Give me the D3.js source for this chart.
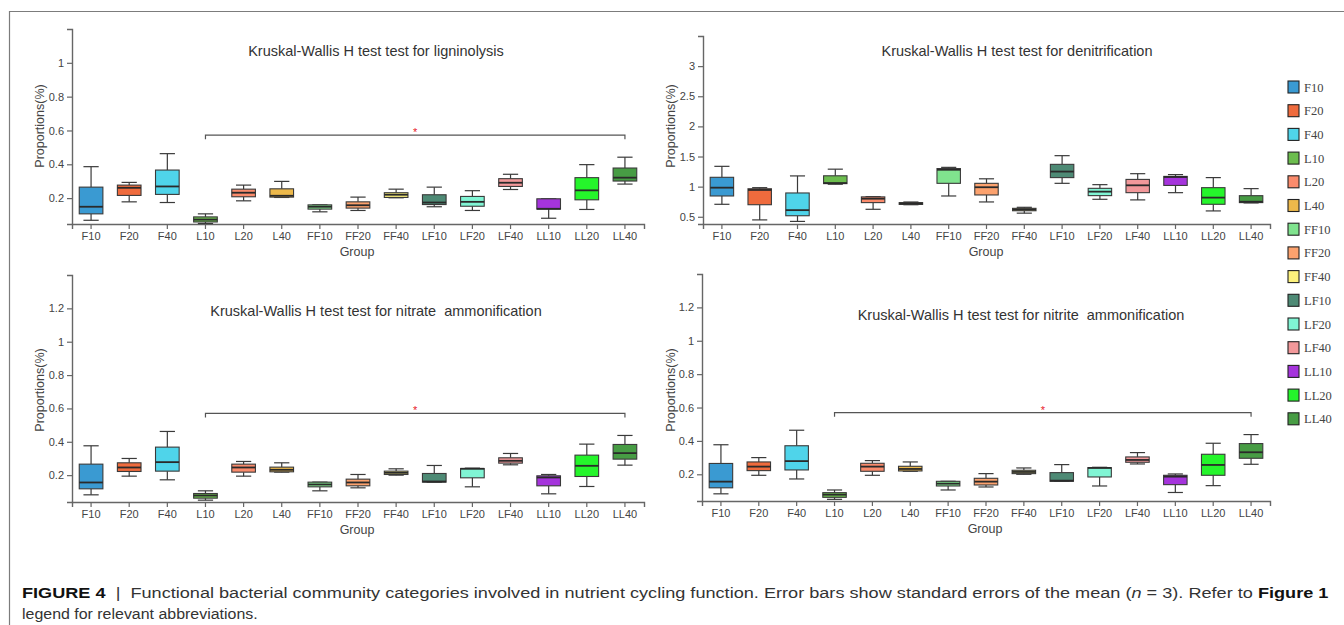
<!DOCTYPE html>
<html>
<head>
<meta charset="utf-8">
<script src="https://cdn.jsdelivr.net/npm/d3@7"></script>
<style>
  html, body { margin: 0; padding: 0; background: #fff; }
  svg { display: block; }
  .keep-space { white-space: pre; }
</style>
</head>
<body>
<svg id="fig" width="1344" height="625"></svg>
<script>
// Sample groups and their box colours
const groups = ["F10","F20","F40","L10","L20","L40","FF10","FF20","FF40","LF10","LF20","LF40","LL10","LL20","LL40"];
const groupColors = ["#3a9ad2","#ef6b3d","#4fd4ea","#6cbd4e","#fa8b6c","#edb94b","#80e38e","#fca26e","#fdf27c","#4e8a75","#80f5d4","#f2989a","#a534dc","#25f52b","#479c44"];

// Ligninolysis (proportion, %)
const ligMin = [0.069,0.178,0.174,0.050,0.184,0.204,0.119,0.127,0.202,0.149,0.127,0.251,0.081,0.133,0.283];
const ligQ1  = [0.107,0.216,0.222,0.059,0.208,0.206,0.135,0.141,0.204,0.162,0.152,0.269,0.135,0.190,0.301];
const ligMed = [0.149,0.261,0.269,0.073,0.232,0.214,0.149,0.158,0.220,0.174,0.178,0.291,0.137,0.246,0.321];
const ligQ3  = [0.265,0.277,0.366,0.089,0.253,0.255,0.160,0.178,0.232,0.220,0.210,0.315,0.196,0.321,0.378];
const ligMax = [0.386,0.293,0.463,0.107,0.277,0.299,0.160,0.206,0.253,0.265,0.244,0.341,0.196,0.398,0.442];

// Denitrification
const denMin = [0.707,0.448,0.423,1.040,0.624,0.700,0.845,0.746,0.560,1.055,0.790,0.780,0.900,0.597,0.730];
const denQ1  = [0.845,0.700,0.517,1.050,0.735,0.705,1.055,0.862,0.600,1.150,0.851,0.900,1.020,0.707,0.735];
const denMed = [0.983,0.945,0.610,1.060,0.800,0.720,1.280,0.990,0.620,1.250,0.917,1.022,1.160,0.818,0.750];
const denQ3  = [1.155,0.965,0.895,1.180,0.830,0.735,1.300,1.055,0.640,1.370,0.972,1.120,1.170,0.983,0.850];
const denMax = [1.337,0.983,1.178,1.290,0.834,0.745,1.320,1.130,0.657,1.514,1.033,1.215,1.200,1.150,0.967];

// Nitrate ammonification
const ntaMin = [0.082,0.194,0.172,0.050,0.194,0.218,0.106,0.124,0.200,0.158,0.130,0.262,0.088,0.132,0.260];
const ntaQ1  = [0.118,0.222,0.224,0.062,0.218,0.220,0.130,0.136,0.204,0.158,0.184,0.272,0.136,0.192,0.296];
const ntaMed = [0.156,0.246,0.278,0.078,0.246,0.232,0.144,0.156,0.214,0.162,0.238,0.286,0.186,0.256,0.332];
const ntaQ3  = [0.266,0.274,0.368,0.090,0.266,0.248,0.158,0.176,0.224,0.210,0.240,0.304,0.196,0.320,0.384];
const ntaMax = [0.376,0.300,0.462,0.106,0.282,0.274,0.158,0.204,0.238,0.258,0.242,0.330,0.204,0.386,0.438];

// Nitrite ammonification
const ntiMin = [0.083,0.194,0.172,0.050,0.194,0.218,0.106,0.124,0.200,0.158,0.130,0.262,0.091,0.132,0.260];
const ntiQ1  = [0.119,0.222,0.226,0.062,0.218,0.220,0.130,0.136,0.204,0.158,0.184,0.272,0.138,0.194,0.296];
const ntiMed = [0.156,0.246,0.279,0.078,0.246,0.232,0.144,0.156,0.214,0.162,0.238,0.286,0.186,0.256,0.332];
const ntiQ3  = [0.265,0.274,0.371,0.090,0.266,0.248,0.158,0.176,0.224,0.210,0.240,0.304,0.194,0.320,0.384];
const ntiMax = [0.377,0.300,0.464,0.106,0.282,0.274,0.158,0.204,0.238,0.258,0.242,0.330,0.202,0.386,0.438];

// Y-axis tick labels
const ticksLig = [0.2,0.4,0.6,0.8,1];
const ticksDen = [0.5,1,1.5,2,2.5,3];
const ticksAmm = [0.2,0.4,0.6,0.8,1,1.2];

// Significance bracket: from / to group, height, label
const sigFrom = "L10", sigTo = "LL40", sigLabel = "*";
const sigLig = 0.572, sigNta = 0.570, sigNti = 0.569;

const titles = [
  "Kruskal-Wallis H test test for ligninolysis",
  "Kruskal-Wallis H test test for denitrification",
  "Kruskal-Wallis H test test for nitrate  ammonification",
  "Kruskal-Wallis H test test for nitrite  ammonification"
];

const svg = d3.select("#fig");
const SANS = "'Liberation Sans', Arial, sans-serif";

// outer frame of the figure
svg.append("line").attr("x1", 9).attr("x2", 1344).attr("y1", 11.5).attr("y2", 11.5)
  .attr("stroke", "#7c7c7c").attr("stroke-width", 1.2);
svg.append("line").attr("x1", 9.5).attr("x2", 9.5).attr("y1", 11).attr("y2", 625)
  .attr("stroke", "#7c7c7c").attr("stroke-width", 1.2);

function zip(mn, q1, md, q3, mx) {
  return groups.map((g, i) => ({ g, i, min: mn[i], q1: q1[i], med: md[i], q3: q3[i], max: mx[i] }));
}

const panels = [
  { title: titles[0], data: zip(ligMin, ligQ1, ligMed, ligQ3, ligMax), ticks: ticksLig,
    domain: [0.047, 1.2], xr: [72, 644], yr: [224, 29], titleX: 376, titleY: 56,
    ylabX: 44, ylabY: 126, grpX: 357, grpY: 256, sig: sigLig },
  { title: titles[1], data: zip(denMin, denQ1, denMed, denQ3, denMax), ticks: ticksDen,
    domain: [0.38, 3.5], xr: [703, 1270], yr: [224, 36], titleX: 1017, titleY: 56,
    ylabX: 675, ylabY: 126, grpX: 986, grpY: 256, sig: null },
  { title: titles[2], data: zip(ntaMin, ntaQ1, ntaMed, ntaQ3, ntaMax), ticks: ticksAmm,
    domain: [0.039, 1.4], xr: [72, 644], yr: [502, 275], titleX: 376, titleY: 316,
    ylabX: 44, ylabY: 390, grpX: 357, grpY: 534, sig: sigNta },
  { title: titles[3], data: zip(ntiMin, ntiQ1, ntiMed, ntiQ3, ntiMax), ticks: ticksAmm,
    domain: [0.04, 1.4], xr: [702, 1270], yr: [501, 274], titleX: 1021, titleY: 320,
    ylabX: 675, ylabY: 390, grpX: 985, grpY: 533, sig: sigNti }
];

const color = d3.scaleOrdinal().domain(groups).range(groupColors);
const fmt = d3.format("~g");

panels.forEach(p => {
  const g = svg.append("g");
  const x = d3.scaleBand().domain(groups).range(p.xr);
  const y = d3.scaleLinear().domain(p.domain).range(p.yr);
  const bw = x.bandwidth();
  const boxW = bw * 0.62, capW = bw * 0.4;
  const cx = d => x(d) + bw / 2;

  // title
  g.append("text").attr("class", "keep-space").attr("x", p.titleX).attr("y", p.titleY)
    .attr("text-anchor", "middle").attr("font-family", SANS).attr("font-size", 14.5)
    .attr("fill", "#333").text(p.title);

  // y axis
  const ya = g.append("g").attr("transform", `translate(${p.xr[0]},0)`)
    .call(d3.axisLeft(y).tickValues(p.ticks).tickFormat(fmt).tickSize(5).tickSizeOuter(5).tickPadding(3));
  // x axis
  const xa = g.append("g").attr("transform", `translate(0,${p.yr[0]})`)
    .call(d3.axisBottom(x).tickSize(5).tickSizeOuter(5).tickPadding(3));
  [ya, xa].forEach(a => {
    a.select(".domain").attr("stroke", "#666").attr("stroke-width", 1.4);
    a.selectAll(".tick line").attr("stroke", "#666").attr("stroke-width", 1.2);
    a.selectAll(".tick text").attr("font-family", SANS).attr("font-size", 11).attr("fill", "#444");
  });

  // axis titles
  g.append("text").attr("transform", `translate(${p.ylabX},${p.ylabY}) rotate(-90)`)
    .attr("text-anchor", "middle").attr("font-family", SANS).attr("font-size", 12.5)
    .attr("fill", "#444").text("Proportions(%)");
  g.append("text").attr("x", p.grpX).attr("y", p.grpY).attr("text-anchor", "middle")
    .attr("font-family", SANS).attr("font-size", 12.5).attr("fill", "#444").text("Group");

  // boxes
  const b = g.selectAll("g.box").data(p.data).enter().append("g").attr("class", "box");
  const stroke = "#3a3a3a";
  b.append("line").attr("x1", d => cx(d.g)).attr("x2", d => cx(d.g))
    .attr("y1", d => y(d.max)).attr("y2", d => y(d.q3)).attr("stroke", stroke).attr("stroke-width", 1.2);
  b.append("line").attr("x1", d => cx(d.g)).attr("x2", d => cx(d.g))
    .attr("y1", d => y(d.q1)).attr("y2", d => y(d.min)).attr("stroke", stroke).attr("stroke-width", 1.2);
  b.append("line").attr("x1", d => cx(d.g) - capW / 2).attr("x2", d => cx(d.g) + capW / 2)
    .attr("y1", d => y(d.max)).attr("y2", d => y(d.max)).attr("stroke", stroke).attr("stroke-width", 1.2);
  b.append("line").attr("x1", d => cx(d.g) - capW / 2).attr("x2", d => cx(d.g) + capW / 2)
    .attr("y1", d => y(d.min)).attr("y2", d => y(d.min)).attr("stroke", stroke).attr("stroke-width", 1.2);
  b.append("rect").attr("x", d => cx(d.g) - boxW / 2).attr("width", boxW)
    .attr("y", d => y(d.q3)).attr("height", d => Math.max(1, y(d.q1) - y(d.q3)))
    .attr("fill", d => color(d.g)).attr("stroke", stroke).attr("stroke-width", 1.1);
  b.append("line").attr("x1", d => cx(d.g) - boxW / 2).attr("x2", d => cx(d.g) + boxW / 2)
    .attr("y1", d => y(d.med)).attr("y2", d => y(d.med)).attr("stroke", "#2a2a2a").attr("stroke-width", 1.8);

  // significance bracket
  if (p.sig !== null) {
    const xa0 = cx(sigFrom), xa1 = cx(sigTo), ys = y(p.sig);
    g.append("path").attr("d", `M${xa0},${ys + 4}V${ys}H${xa1}V${ys + 4}`)
      .attr("fill", "none").attr("stroke", "#555").attr("stroke-width", 1.2);
    g.append("text").attr("x", (xa0 + xa1) / 2).attr("y", ys + 1).attr("text-anchor", "middle")
      .attr("font-family", SANS).attr("font-size", 11).attr("fill", "#e8202a").text(sigLabel);
  }
});

// legend
const leg = svg.append("g").attr("transform", "translate(1288,87)");
const li = leg.selectAll("g").data(groups).enter().append("g")
  .attr("transform", (d, i) => `translate(0,${i * 23.7})`);
li.append("rect").attr("x", 0).attr("y", -6).attr("width", 11).attr("height", 12)
  .attr("fill", d => color(d)).attr("stroke", "#222").attr("stroke-width", 1.1);
li.append("text").attr("x", 16).attr("y", 4.5)
  .attr("font-family", "'Liberation Serif', 'Times New Roman', serif").attr("font-size", 12.5)
  .attr("fill", "#444").text(d => d);

// caption
function fitText(sel, width) {
  const w = sel.node().getComputedTextLength();
  const x0 = +sel.attr("x"), y0 = +sel.attr("y");
  sel.attr("transform", `translate(${x0},${y0}) scale(${width / w},1) translate(${-x0},${-y0})`);
}
const cap1 = svg.append("text").attr("class", "keep-space").attr("x", 22).attr("y", 598)
  .attr("font-family", SANS).attr("font-size", 15).attr("fill", "#333");
cap1.append("tspan").attr("font-weight", "bold").attr("fill", "#111").text("FIGURE 4");
cap1.append("tspan").text("  |  Functional bacterial community categories involved in nutrient cycling function. Error bars show standard errors of the mean (");
cap1.append("tspan").attr("font-style", "italic").text("n");
cap1.append("tspan").text(" = 3). Refer to ");
cap1.append("tspan").attr("font-weight", "bold").attr("fill", "#111").text("Figure 1");
fitText(cap1, 1308);

const cap2 = svg.append("text").attr("x", 22).attr("y", 619)
  .attr("font-family", SANS).attr("font-size", 15).attr("fill", "#333")
  .text("legend for relevant abbreviations.");
fitText(cap2, 236);
</script>
</body>
</html>
